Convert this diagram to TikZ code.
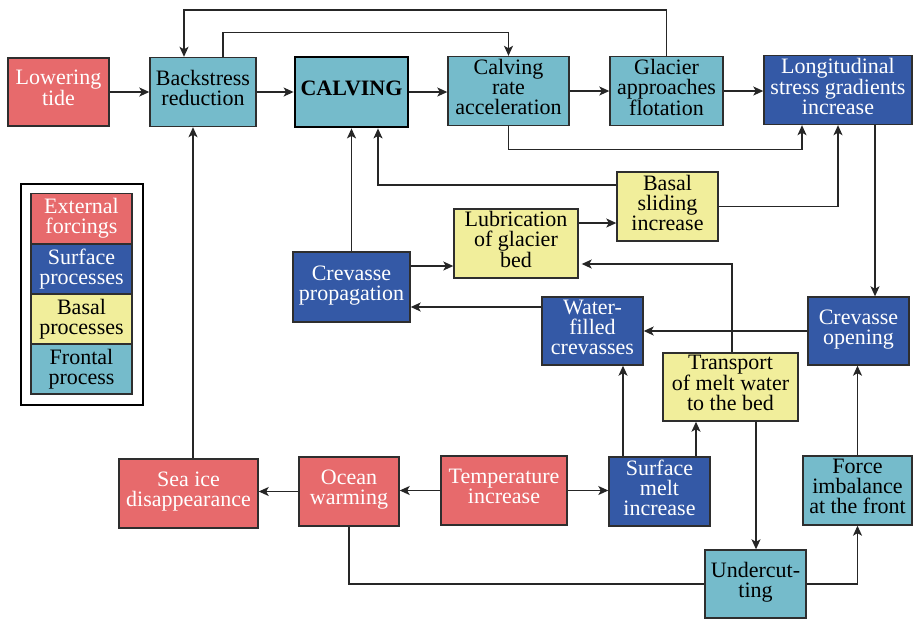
\documentclass[tikz,border=0pt]{standalone}
\usepackage{fontspec}
\setmainfont{LiberationSerif}[Extension=.ttf, UprightFont=*-Regular, BoldFont=*-Bold, ItalicFont=*-Italic, BoldItalicFont=*-BoldItalic]
\usetikzlibrary{arrows.meta}
\definecolor{cred}{HTML}{E76A6C}
\definecolor{ccyan}{HTML}{75BBCB}
\definecolor{cblue}{HTML}{3459A6}
\definecolor{cyel}{HTML}{F1EE9B}
\definecolor{cborder}{HTML}{2E2E2E}
\tikzset{
  box/.style={draw=cborder, line width=1.4pt, rectangle, inner sep=1pt, align=center,
    text depth=8pt, font=\rmfamily\fontsize{22}{20}\selectfont},
  ext/.style={box, fill=cred, text=white},
  surf/.style={box, fill=cblue, text=white},
  bas/.style={box, fill=cyel, text=black},
  front/.style={box, fill=ccyan, text=black},
  legbox/.style={text depth=5pt},
  conn/.style={line width=1.3pt, draw=black!85},
  arr/.style={conn, -{Stealth[length=10pt,width=9pt,inset=2.5pt]}},
  sz/.style 2 args={minimum width=#1pt, minimum height=#2pt},
}
\begin{document}
\begin{tikzpicture}[x=1pt,y=-1pt]
\useasboundingbox (0,0) rectangle (913,619);
% top row
\node[ext, sz={101}{68}] (lt) at (58.5,92) {Lowering\\tide};
\node[front, sz={106}{69}] (bs) at (203,92) {Backstress\\reduction};
\node[front, sz={113}{70}, draw=black, line width=2.8pt, font=\rmfamily\fontsize{22}{20}\selectfont\bfseries] (calv) at (351.5,92) {CALVING};
\node[front, sz={121}{69}] (cra) at (508.5,91) {Calving\\rate\\acceleration};
\node[front, sz={113}{69}] (gaf) at (666.5,91) {Glacier\\approaches\\flotation};
\node[surf, sz={148}{69}] (lsg) at (838,90) {Longitudinal\\stress gradients\\increase};
% middle
\node[bas, sz={101}{69}] (bsi) at (667.5,206.5) {Basal\\sliding\\increase};
\node[bas, sz={124}{69}] (lub) at (516,243.5) {Lubrication\\of glacier\\bed};
\node[surf, sz={117}{70}] (cp) at (351.5,287) {Crevasse\\propagation};
\node[surf, sz={101}{68}] (wfc) at (592.5,331) {Water-\\filled\\crevasses};
\node[surf, sz={101}{68}] (co) at (858.5,331) {Crevasse\\opening};
\node[bas, sz={135}{68}] (tmw) at (730.5,387) {Transport\\of melt water\\to the bed};
% bottom
\node[ext, sz={139}{69}] (sid) at (188.5,493.5) {Sea ice\\disappearance};
\node[ext, sz={100}{69}] (ow) at (349,491.5) {Ocean\\warming};
\node[ext, sz={126}{69}] (ti) at (504,490.5) {Temperature\\increase};
\node[surf, sz={101}{69}] (smi) at (659.5,491.5) {Surface\\melt\\increase};
\node[front, sz={109}{69}] (fi) at (857.5,490.5) {Force\\imbalance\\at the front};
\node[front, sz={101}{68}] (uc) at (755.5,584) {Undercut-\\ting};
% legend
\node[draw=black, line width=2.8pt, minimum width=122pt, minimum height=221pt, inner sep=0pt] (leg) at (82,294.5) {};
\node[ext, legbox, sz={101}{50}] (l1) at (81.5,218.5) {External\\forcings};
\node[surf, legbox, sz={101}{50}] (l2) at (81.5,269) {Surface\\processes};
\node[bas, legbox, sz={101}{50}] (l3) at (81.5,319) {Basal\\processes};
\node[front, legbox, sz={101}{50}] (l4) at (81.5,369) {Frontal\\process};
% coordinates
\coordinate (t1) at (0,10);
% connectors
\draw[arr] (lt.east) -- (lt.east -| bs.west);
\draw[arr] (bs.east) -- (bs.east -| calv.west);
\draw[arr] (calv.east) -- (calv.east -| cra.west);
\draw[arr] (cra.east) -- (cra.east -| gaf.west);
\draw[arr] (gaf.east) -- (gaf.east -| lsg.west);
\draw[arr] (gaf.north) -- (gaf.north |- t1) -| ([xshift=-19pt]bs.north);
\draw[arr] ([xshift=20pt]bs.north) -- ++(0,-24) -| (cra.north);
\draw[arr] (cra.south) -- ++(0,23) -| ([xshift=-36pt]lsg.south);
\draw[arr] (bsi.east) -| (lsg.south);
\draw[arr] ([xshift=37pt]lsg.south) -- ([xshift=37pt]lsg.south |- co.north);
\draw[arr] ([yshift=21.5pt]bsi.west) -| ([xshift=26.5pt]calv.south);
\draw[arr] (cp.north) -- (calv.south);
\draw[arr] ([xshift=4.5pt]sid.north) -- ([xshift=-10pt]bs.south);
\draw[arr] ([yshift=20.5pt]lub.east) -- ([yshift=20.5pt]lub.east -| bsi.west);
\draw[arr] ([yshift=21pt]cp.east) -- ([yshift=21pt]cp.east -| lub.west);
\draw[arr] ([yshift=24pt]wfc.west) -- ([yshift=24pt]wfc.west -| cp.east);
\draw[arr] (co.west) -- (co.west -| wfc.east);
\draw[arr, shorten >=3pt] ([xshift=1.5pt]tmw.north) |- ([yshift=-20.5pt]lub.east);
\draw[arr] (ow.west) -- (ow.west -| sid.east);
\draw[arr] (ti.west) -- (ti.west -| ow.east);
\draw[arr] (ti.east) -- (ti.east -| smi.west);
\draw[arr] ([xshift=-36.5pt]smi.north) -- ([xshift=-36.5pt]smi.north |- wfc.south);
\draw[arr] ([xshift=36.5pt]smi.north) -- ([xshift=36.5pt]smi.north |- tmw.south);
\draw[arr] ([xshift=25.5pt]tmw.south) -- ([xshift=25.5pt]tmw.south |- uc.north);
\draw[conn] (ow.south) |- (uc.west);
\draw[arr] (uc.east) -| (fi.south);
\draw[arr] (fi.north) -- (fi.north |- co.south);
\end{tikzpicture}
\end{document}
